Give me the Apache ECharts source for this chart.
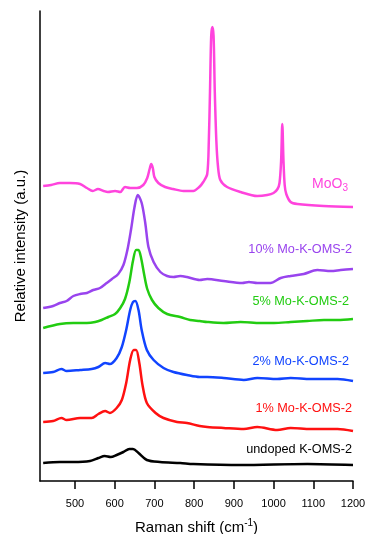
<!DOCTYPE html>
<html>
<head>
<meta charset="utf-8">
<script src="https://cdn.jsdelivr.net/npm/echarts@6/dist/echarts.min.js"></script>
<style>
  html, body { margin: 0; padding: 0; background: #fff; }
  #chart { width: 369px; height: 534px; }
</style>
</head>
<body>
<div id="chart"></div>
<script>
// x ticks (cm-1)
const xTicks = [500, 600, 700, 800, 900, 1000, 1100, 1200];

// spectra, [Raman shift, relative intensity (offset stacked)]
const moo3 = [[420,295],[440,296],[462,298],[487,298],[513,297],[530,293],[545,290],[558,292],[572,290],[583,289],[601,290],[614,289],[626,294],[639,293],[656,293],[672,296],[682,303],[688,312],[692,317],[696,313],[700,304],[710,298],[727,294],[747,292],[773,290],[798,290],[813,294],[823,299],[833,307],[837,340],[840,390],[843,445],[846,454],[849,445],[852,390],[856,340],[860,315],[866,301],[883,294],[917,289],[959,285],[984,286],[1000,288],[1010,292],[1015,298],[1019,320],[1022,357],[1025,320],[1028,296],[1032,287],[1043,279],[1060,277],[1126,275],[1200,274]];
const mo10 = [[420,173],[445,175],[462,178],[479,180],[496,185],[513,187],[530,188],[546,191],[563,193],[580,198],[593,202],[609,207],[622,216],[632,231],[641,251],[650,274],[658,286],[668,278],[677,258],[685,234],[698,219],[715,209],[732,205],[748,204],[765,205],[782,204],[814,201],[833,202],[874,200],[921,198],[938,199],[959,198],[992,198],[1018,203],[1043,205],[1076,207],[1110,211],[1144,210],[1169,211],[1200,212]];
const mo5 = [[420,153],[462,157],[496,158],[530,158],[551,159],[567,161],[584,164],[601,167],[614,173],[626,182],[637,199],[646,220],[654,231],[660,231],[667,222],[674,207],[682,192],[694,181],[710,173],[732,167],[765,164],[790,161],[814,160],[833,159],[874,158],[917,159],[967,158],[1001,158],[1043,159],[1085,160],[1127,161],[1161,161],[1200,162]];
const mo2 = [[420,108],[445,109],[466,112],[479,110],[513,111],[542,112],[559,114],[576,118],[588,117],[605,123],[618,134],[629,151],[639,171],[646,179],[652,180],[660,171],[668,151],[681,131],[698,121],[723,113],[748,109],[782,106],[814,104],[833,104],[874,103],[925,101],[959,103],[1009,102],[1043,103],[1093,102],[1127,102],[1161,102],[1200,100]];
const mo1 = [[420,59],[445,60],[466,63],[479,61],[513,63],[542,63],[559,67],[576,70],[588,68],[605,73],[618,81],[629,98],[639,121],[648,131],[654,131],[662,118],[670,96],[681,78],[703,68],[723,63],[757,59],[782,58],[814,55],[833,54],[874,53],[925,52],[959,54],[1009,51],[1043,53],[1093,52],[1161,52],[1200,50]];
const undoped = [[420,18],[462,19],[496,19],[538,20],[559,23],[575,25],[590,24],[605,26],[622,29],[637,32],[646,32],[660,28],[681,21],[714,19],[765,18],[798,17],[917,16],[1085,17],[1200,16]];

const seriesNames = ["MoO3", "10% Mo-K-OMS-2", "5% Mo-K-OMS-2", "2% Mo-K-OMS-2", "1% Mo-K-OMS-2", "undoped K-OMS-2"];
const seriesData = [moo3, mo10, mo5, mo2, mo1, undoped];
const colors = ["#ff44dd", "#9944ee", "#22cc11", "#1144ff", "#ff1111", "#000000"];

const font = "'Liberation Sans', Arial, sans-serif";
const chart = echarts.init(document.getElementById("chart"));

const series = seriesData.map((d, i) => ({
  name: seriesNames[i],
  type: "line",
  data: d,
  showSymbol: false,
  smooth: 0.3,
  lineStyle: { color: colors[i], width: 2.5 },
  silent: true
}));

// curve labels: right edge x, centre y
const labelPos = [[348, 185], [352, 251], [349, 303], [349, 363], [352, 410], [352, 451]];
const graphics = labelPos.map((p, i) => ({
  type: "text",
  right: 369 - p[0],
  top: p[1] - 8,
  style: i === 0 ? {
    text: "{a|MoO}{s|3}",
    rich: {
      a: { fontSize: 14, fontFamily: font, fill: colors[0] },
      s: { fontSize: 10, fontFamily: font, fill: colors[0], padding: [8, 0, 0, 0] }
    }
  } : {
    text: seriesNames[i],
    fontSize: 12.7,
    fontFamily: font,
    fill: colors[i]
  }
}));

chart.setOption({
  animation: false,
  grid: { left: 40, right: 16, top: 11, bottom: 53, outerBoundsMode: "none" },
  xAxis: {
    type: "value",
    min: 412,
    max: 1200,
    axisLine: { lineStyle: { color: "#000", width: 1.5 } },
    axisTick: { customValues: xTicks, length: 8, lineStyle: { color: "#000", width: 1.5 } },
    axisLabel: {
      customValues: xTicks, color: "#000", fontSize: 11, fontFamily: font, margin: 17,
      formatter: (v) => String(v)
    },
    splitLine: { show: false },
    name: "{t|Raman shift (cm}{s|-1}{t|)}",
    nameLocation: "middle",
    nameGap: 37,
    nameTextStyle: {
      rich: {
        t: { fontSize: 15, fontFamily: font, color: "#000" },
        s: { fontSize: 10, fontFamily: font, color: "#000", padding: [0, 0, 10, 0] }
      }
    }
  },
  yAxis: {
    type: "value",
    min: 0,
    max: 470,
    axisLine: { show: true, lineStyle: { color: "#000", width: 1.5 } },
    axisTick: { show: false },
    axisLabel: { show: false },
    splitLine: { show: false },
    name: "Relative intensity (a.u.)",
    nameLocation: "middle",
    nameRotate: 90,
    nameGap: 12,
    nameTextStyle: { fontSize: 15, fontFamily: font, color: "#000" }
  },
  graphic: graphics,
  series: series
});
</script>
</body>
</html>
